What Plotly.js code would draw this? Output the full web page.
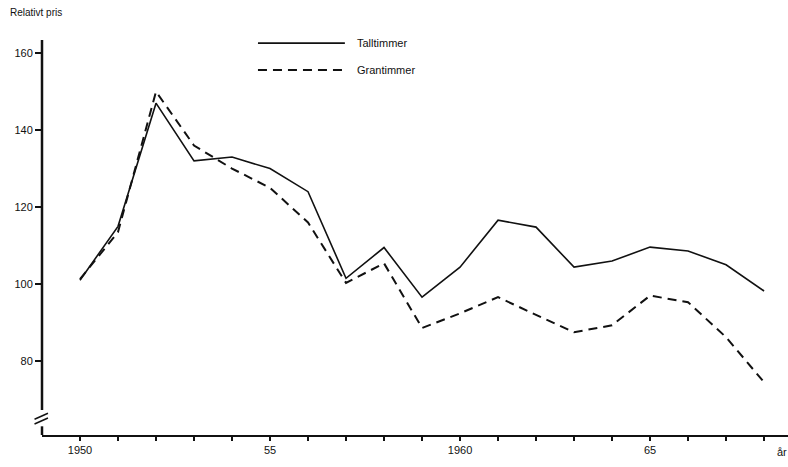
<!DOCTYPE html>
<html>
<head>
<meta charset="utf-8">
<script src="https://cdn.plot.ly/plotly-3.0.1.min.js"></script>
<style>html,body{margin:0;padding:0;background:#fff;}#chart{width:788px;height:467px;}</style>
</head>
<body>
<div id="chart"></div>
<script>
const years = [1950,1951,1952,1953,1954,1955,1956,1957,1958,1959,1960,1961,1962,1963,1964,1965,1966,1967,1968];
const talltimmer = [101,115,147,132,133,130,124,101.5,109.5,96.6,104.4,116.6,114.8,104.4,106,109.6,108.6,105,98.2];
const grantimmer = [101.3,113.5,150,136,130,125,116,100.3,105.4,88.6,92.4,96.6,92,87.5,89.3,97,95.3,86.2,74.5];
const seriesNames = ["Talltimmer","Grantimmer"];
const yTicks = [80,100,120,140,160];
const xTickLabels = {1950:"1950",1955:"55",1960:"1960",1965:"65"};

const font = {family:"Liberation Sans, Arial, sans-serif", size:11, color:"#111"};

const traces = [
  {x:years, y:talltimmer, name:seriesNames[0], mode:"lines", line:{color:"#111", width:1.6}},
  {x:years, y:grantimmer, name:seriesNames[1], mode:"lines", line:{color:"#111", width:2, dash:"9px,6px"}}
];

const layout = {
  width:788, height:467,
  margin:{l:42, r:0, t:40, b:32},
  paper_bgcolor:"#fff", plot_bgcolor:"#fff",
  showlegend:false,
  font:font,
  xaxis:{range:[1949,1968.63], showgrid:false, zeroline:false, showline:true, linewidth:2, linecolor:"#111",
         ticks:"outside", ticklen:4, tickwidth:1.5, tickcolor:"#111",
         tickvals:years, ticktext:years.map(y=>xTickLabels[y]||""), tickfont:font},
  yaxis:{range:[60.8,163.4], showgrid:false, zeroline:false, showline:false,
         ticks:"outside", ticklen:6, tickwidth:1.5, tickcolor:"#111",
         tickvals:yTicks, tickfont:font},
  shapes:[
    {type:"line", xref:"paper", yref:"paper", x0:0, x1:0, y0:0.063, y1:1, line:{color:"#111", width:2.5}},
    {type:"line", xref:"paper", yref:"paper", x0:0, x1:0, y0:0, y1:0.022, line:{color:"#111", width:2.5}},
    {type:"line", xref:"paper", yref:"paper", x0:-0.010, x1:0.008, y0:0.040, y1:0.055, line:{color:"#111", width:1.5}},
    {type:"line", xref:"paper", yref:"paper", x0:-0.010, x1:0.008, y0:0.028, y1:0.043, line:{color:"#111", width:1.5}},
    {type:"line", xref:"paper", yref:"paper", x0:0.2895, x1:0.406, y0:0.992, y1:0.992, line:{color:"#111", width:1.6}},
    {type:"line", xref:"paper", yref:"paper", x0:0.2895, x1:0.406, y0:0.924, y1:0.924, line:{color:"#111", width:2, dash:"9px,6px"}}
  ],
  annotations:[
    {text:"Relativt pris", xref:"paper", yref:"paper", x:-0.046, y:1.07, xanchor:"left", yanchor:"middle", showarrow:false, font:{family:font.family, size:10, color:"#111"}},
    {text:seriesNames[0], xref:"paper", yref:"paper", x:0.42, y:0.992, xanchor:"left", yanchor:"middle", showarrow:false, font:font},
    {text:seriesNames[1], xref:"paper", yref:"paper", x:0.42, y:0.924, xanchor:"left", yanchor:"middle", showarrow:false, font:font},
    {text:"år", xref:"x", yref:"paper", x:1968.47, y:-0.022, xanchor:"center", yanchor:"top", showarrow:false, font:font}
  ]
};

Plotly.newPlot("chart", traces, layout, {displayModeBar:false, staticPlot:true});
</script>
</body>
</html>
